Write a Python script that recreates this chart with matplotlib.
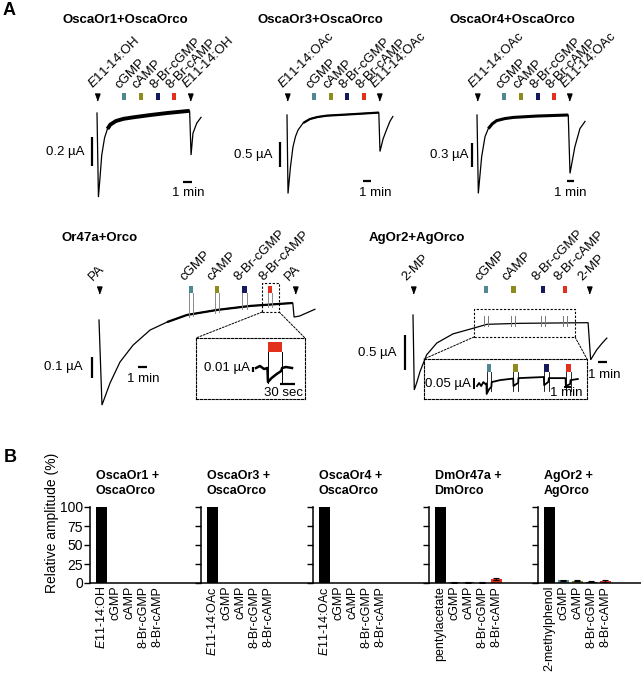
import numpy as np
import matplotlib.pyplot as plt
from matplotlib.patches import Rectangle, ConnectionPatch

plt.rcParams['font.family'] = ['Liberation Sans', 'DejaVu Sans']
plt.rcParams['mathtext.fontset'] = 'custom'
plt.rcParams['mathtext.rm'] = 'Liberation Sans'
plt.rcParams['mathtext.it'] = 'Liberation Sans:italic'
plt.rcParams['font.size'] = 9.5

W, H = 641, 677

# test compounds
stim_names = ['cGMP', 'cAMP', '8-Br-cGMP', '8-Br-cAMP']
stim_colors = ['#4f8793', '#8f8b1f', '#151a5e', '#e3301c']

# ---------------- A: recordings (time in min, current in uA) ----------------
or1_odor = r'$\mathit{E}$11-14:OH'
or1_t = [0, 0.15, 0.3, 0.5, 0.8, 1.1, 1.4, 2.0, 2.8, 3.8, 5.5, 7.4, 9.75, 9.9, 10.1, 10.5, 10.95]
or1_i = [0, -0.58, -0.46, -0.29, -0.17, -0.11, -0.08, -0.055, -0.04, -0.03, -0.015, 0.0, 0.015,
         -0.29, -0.14, -0.07, -0.03]
or1_odor_t = [0, 9.8]
or1_stim_t = [2.84, 4.63, 6.42, 8.1]

or3_odor = r'$\mathit{E}$11-14:OAc'
or3_t = [0, 0.12, 0.4, 0.7, 1.0, 1.3, 1.9, 2.7, 3.6, 4.7, 7.4, 10.6, 10.8, 10.94, 11.3, 11.7, 12.1, 12.45]
or3_i = [0, -1.57, -1.05, -0.64, -0.43, -0.30, -0.16, -0.08, -0.04, -0.013, 0.013, 0.046, 0.05,
         -0.73, -0.48, -0.30, -0.13, -0.03]
or3_odor_t = [0, 10.82]
or3_stim_t = [3.18, 5.18, 7.06, 9.06]

or4_odor = r'$\mathit{E}$11-14:OAc'
or4_t = [0, 0.18, 0.64, 1.1, 1.55, 2.1, 2.7, 3.8, 5.0, 8.2, 12.5, 12.74, 13.4, 14.1, 14.8]
or4_i = [0, -0.98, -0.52, -0.27, -0.17, -0.11, -0.07, -0.045, -0.03, -0.013, 0.0, -0.73, -0.40, -0.17, -0.08]
or4_odor_t = [0, 12.6]
or4_stim_t = [3.7, 6.03, 8.36, 10.55]

or47_odor = 'PA'
or47_t = [0, 0.35, 1.3, 2.47, 4.0, 6.0, 8.0, 10.35, 13.9, 17.8, 22.8, 22.95, 23.6, 25.4]
or47_i = [0, -0.405, -0.30, -0.20, -0.12, -0.048, -0.01, 0.024, 0.048, 0.067, 0.081, 0.014, 0.019, 0.051]
or47_odor_t = [0, 23.1]
or47_stim_t = [10.8, 13.9, 17.1, 20.1]
# zoom on the 8-Br-cAMP application (time from application onset)
or47_zoom_t = [-0.4, -0.27, -0.13, -0.02, 0.0, 0.12, 0.29, 0.44, 0.47, 0.6, 0.8]
or47_zoom_i = [0, 0.004, -0.002, 0, -0.028, -0.02, -0.012, -0.006, 0, 0.002, 0]

ag_odor = '2-MP'
ag_t = [0, 0.15, 0.43, 0.82, 1.6, 2.8, 4.7, 7.06, 8.7, 12.6, 20.4, 20.6, 20.9, 21.6, 22.2, 22.8]
ag_i = [0, -1.07, -0.97, -0.81, -0.57, -0.40, -0.27, -0.19, -0.133, -0.119, -0.11, -0.11,
        -0.64, -0.5, -0.41, -0.33]
ag_odor_t = [0, 20.7]
ag_stim_t = [8.6, 11.8, 15.3, 17.9]
ag_zoom_t = [0, 0.3, 0.6, 0.9, 1.2, 1.34, 1.38, 1.7, 2.05, 2.1, 3.3, 5.17, 5.21, 5.6, 5.88, 5.92,
             9.55, 9.59, 10.2, 10.26, 12.65, 12.69, 13.3, 13.36, 14.4]
ag_zoom_i = [-0.009, 0.005, -0.009, 0.009, 0.0, 0.003, -0.045, -0.025, -0.012, 0.009, 0.018, 0.025,
             -0.009, 0.0, 0.005, 0.027, 0.032, -0.005, 0.01, 0.027, 0.027, -0.009, 0.0, 0.018, 0.023]
ag_zoom_stim_t = [1.36, 5.19, 9.57, 12.67]

# ---------------- B: relative amplitudes (%) ----------------
b_titles = ['OscaOr1 +\nOscaOrco', 'OscaOr3 +\nOscaOrco', 'OscaOr4 +\nOscaOrco',
            'DmOr47a +\nDmOrco', 'AgOr2 +\nAgOrco']
b_odors = [r'$\mathit{E}$11-14:OH', r'$\mathit{E}$11-14:OAc', r'$\mathit{E}$11-14:OAc',
           'pentylacetate', '2-methylphenol']
b_vals = [[100, 0, 0, 0, 0], [100, 0, 0, 0, 0], [100, 0, 0, 0, 0],
          [100, 0.8, 0.9, 0.5, 5.2], [100, 3.8, 3.2, 1.6, 2.8]]
b_errs = [[0, 0, 0, 0, 0], [0, 0, 0, 0, 0], [0, 0, 0, 0, 0],
          [0, 0.4, 0.4, 0.3, 1.5], [0, 0.8, 0.7, 0.5, 0.9]]

fig = plt.figure(figsize=(W / 100, H / 100), dpi=100)
arrow = [(-0.35, 0.5), (0.35, 0.5), (0, -0.5)]
dash = (0, (2, 1.5))


def fy(y):
    # pixel row -> figure / axes fraction
    return 1 - y / H


def trace_axes(name, ox, oy, sx, sy):
    # full figure axes, t=0 and I=0 land on pixel (ox, oy)
    ax = fig.add_axes([0, 0, 1, 1], label=name)
    ax.set_xlim(-ox / sx, (W - ox) / sx)
    ax.set_ylim((oy - H) / sy, oy / sy)
    ax.axis('off')
    return ax


def draw_trace(ax, t, i, noisy=None, lw=0.9, noisy_lw=2.5):
    t = np.array(t)
    i = np.array(i)
    ax.plot(t, i, color='k', lw=lw, solid_joinstyle='miter')
    if noisy:
        m = (t >= noisy[0]) & (t <= noisy[1])
        ax.plot(t[m], i[m], color='k', lw=noisy_lw, solid_capstyle='butt')


def draw_marks(ax, sx, odor, odor_t, stim_t, row_y, label_y, dx):
    tr = ax.get_xaxis_transform()
    for t in odor_t:
        ax.plot(t, fy(row_y), marker=arrow, ms=5, color='k', transform=tr)
        ax.text(t - dx / sx, fy(label_y), odor, rotation=45, rotation_mode='anchor',
                ha='left', va='baseline', transform=tr)
    for t, name, c in zip(stim_t, stim_names, stim_colors):
        ax.add_patch(Rectangle((t - 2.2 / sx, fy(row_y + 3.5)), 4.4 / sx, 7 / H,
                               color=c, transform=tr, lw=0))
        ax.text(t - dx / sx, fy(label_y), name, rotation=45, rotation_mode='anchor',
                ha='left', va='baseline', transform=tr)


def scale_bars(ax, vx, v0, v1, vlabel, lx, ly, h0, h1, hy, tx, ty, lw=1.6):
    ax.plot([vx, vx], [v0, v1], color='k', lw=lw, solid_capstyle='butt')
    ax.text(lx, ly, vlabel, ha='right', va='center')
    ax.plot([h0, h1], [hy, hy], color='k', lw=lw, solid_capstyle='butt')
    ax.text(tx, ty, '1 min', ha='center', va='center')


def zoom_axes(name, x0, y0, x1, y1, xlim, ylim):
    ax = fig.add_axes([x0 / W, fy(y1), (x1 - x0) / W, (y1 - y0) / H], label=name)
    ax.set_xlim(*xlim)
    ax.set_ylim(*ylim)
    ax.set_xticks([])
    ax.set_yticks([])
    ax.patch.set_alpha(0)
    for s in ax.spines.values():
        s.set_linestyle(dash)
        s.set_linewidth(0.8)
    return ax


fig.text(3 / W, fy(2), 'A', fontsize=13, fontweight='bold', va='top')
fig.text(4 / W, fy(449), 'B', fontsize=13, fontweight='bold', va='top')

# ---- top row ----
for name, cx in [('OscaOr1+OscaOrco', 125), ('OscaOr3+OscaOrco', 320), ('OscaOr4+OscaOrco', 512)]:
    fig.text(cx / W, fy(20), name, ha='center', va='center', fontweight='bold')

ax1 = trace_axes('or1', 97, 113, 9.5, 145)
draw_trace(ax1, or1_t, or1_i, noisy=(1.0, 9.75), noisy_lw=2.8)
draw_marks(ax1, 9.5, or1_odor, or1_odor_t, or1_stim_t, 96.5, 89, 4)
scale_bars(ax1, -0.53, -0.166, -0.366, '0.2 µA', -1.3, -0.27, 9.05, 10.05, -0.476, 9.6, -0.55)

ax2 = trace_axes('or3', 287, 115, 8.5, 50)
draw_trace(ax2, or3_t, or3_i, noisy=(1.9, 10.8), noisy_lw=1.6)
draw_marks(ax2, 8.5, or3_odor, or3_odor_t, or3_stim_t, 96.5, 89, 4)
scale_bars(ax2, -0.82, -0.54, -1.04, '0.5 µA', -1.76, -0.8, 8.94, 9.94, -1.32, 10.35, -1.56)

ax3 = trace_axes('or4', 477, 115, 7.3, 80)
draw_trace(ax3, or4_t, or4_i, noisy=(1.55, 12.5), noisy_lw=2.2)
draw_marks(ax3, 7.3, or4_odor, or4_odor_t, or4_stim_t, 96.5, 89, 4)
scale_bars(ax3, -0.68, -0.35, -0.65, '0.3 µA', -1.23, -0.5, 12.33, 13.33, -0.825, 12.74, -0.975)

# ---- middle row ----
fig.text(100 / W, fy(238), 'Or47a+Orco', ha='center', va='center', fontweight='bold')
fig.text(417 / W, fy(238), 'AgOr2+AgOrco', ha='center', va='center', fontweight='bold')

ax4 = trace_axes('or47', 99, 320, 8.5, 210)
draw_trace(ax4, or47_t, or47_i, noisy=(8.0, 22.8), noisy_lw=1.6)
for t in or47_stim_t:
    for te in (t - 0.26, t + 0.26):
        ax4.plot([te, te], [0.129, np.interp(te, or47_t, or47_i) - 0.012], color='#8a8a8a', lw=0.7)
draw_marks(ax4, 8.5, or47_odor, or47_odor_t, or47_stim_t, 289.5, 281, 6)
scale_bars(ax4, -0.82, -0.176, -0.276, '0.1 µA', -1.9, -0.224, 4.6, 5.6, -0.224, 5.2, -0.28)
ax4.add_patch(Rectangle((19.2, 0.038), 2.0, 0.138, fill=False, ls=dash, lw=0.8))

in1 = zoom_axes('in1', 196, 338, 305, 399, (-2.4, 1.233), (-0.062, 0.06))
in1.plot(or47_zoom_t, or47_zoom_i, color='k', lw=1.8)
in1.add_patch(Rectangle((0, 0.032), 0.47, 0.02, color=stim_colors[3], lw=0))
for te in (0, 0.47):
    in1.plot([te, te], [0.032, -0.03], color='k', lw=0.7)
in1.plot([-0.5, -0.5], [0.002, -0.008], color='k', lw=1.6, solid_capstyle='butt')
in1.text(-0.6, 0.0, '0.01 µA', ha='right', va='center')
in1.plot([0.4, 0.9], [-0.032, -0.032], color='k', lw=1.6, solid_capstyle='butt')
in1.text(0.5, -0.05, '30 sec', ha='center', va='center')
for xa, xb in [((19.2, 0.038), (0, 1)), ((21.2, 0.038), (1, 1))]:
    fig.add_artist(ConnectionPatch(xa, xb, coordsA=ax4.transData, coordsB=in1.transAxes,
                                   ls=dash, lw=0.7, color='k'))

ax5 = trace_axes('ag', 413, 315, 8.5, 70)
draw_trace(ax5, ag_t, ag_i, lw=0.9)
for t in ag_stim_t:
    for te in (t - 0.24, t + 0.24):
        ax5.plot([te, te], [-0.02, -0.16], color='#777777', lw=0.7)
draw_marks(ax5, 8.5, ag_odor, ag_odor_t, ag_stim_t, 289.5, 281, 7)
scale_bars(ax5, -0.94, -0.286, -0.786, '0.5 µA', -2.0, -0.54, 21.8, 22.8, -0.67, 22.5, -0.86)
ax5.add_patch(Rectangle((7.18, -0.314), 11.88, 0.4, fill=False, ls=dash, lw=0.8))

in2 = zoom_axes('in2', 424, 359, 587, 399, (-7.57, 15.71), (-0.068, 0.114))
in2.plot(ag_zoom_t, ag_zoom_i, color='k', lw=1.3)
for t, c in zip(ag_zoom_stim_t, stim_colors):
    in2.add_patch(Rectangle((t, 0.055), 0.71, 0.036, color=c, lw=0))
    for te in (t, t + 0.71):
        in2.plot([te, te], [0.055, -0.03], color='k', lw=0.6)
in2.plot([-0.43, -0.43], [0.027, -0.023], color='k', lw=1.4, solid_capstyle='butt')
in2.text(-0.86, 0.0, '0.05 µA', ha='right', va='center')
in2.plot([12.4, 13.4], [-0.012, -0.012], color='k', lw=1.4, solid_capstyle='butt')
in2.text(12.7, -0.04, '1 min', ha='center', va='center')
for xa, xb in [((7.18, -0.314), (0, 1)), ((19.06, -0.314), (1, 1))]:
    fig.add_artist(ConnectionPatch(xa, xb, coordsA=ax5.transData, coordsB=in2.transAxes,
                                   ls=dash, lw=0.7, color='k'))

# ---- B: bar charts ----
b_left = [90, 201, 313, 429, 538]
b_right = [201, 313, 429, 538, 641]
x = np.arange(5)
for k in range(5):
    wpx = b_right[k] - b_left[k]
    ax = fig.add_axes([b_left[k] / W, fy(583), wpx / W, 76 / H])
    errs = b_errs[k] if any(b_errs[k]) else None
    ax.bar(x, b_vals[k], width=0.78, color=['k'] + stim_colors, yerr=errs, capsize=2,
           error_kw=dict(lw=0.8, capthick=0.8))
    ax.set_xlim(-0.82, -0.82 + wpx / 14)
    ax.set_ylim(0, 100)
    ax.set_xticks(x, [b_odors[k]] + stim_names, rotation=90, fontsize=9)
    ax.tick_params(axis='x', length=0, pad=2)
    ax.set_yticks([0, 25, 50, 75, 100])
    ax.tick_params(axis='y', length=4, width=1, labelsize=10, pad=1)
    if k > 0:
        ax.set_yticklabels([])
    else:
        ax.set_ylabel('Relative amplitude (%)', fontsize=10)
        ax.yaxis.set_label_coords(-0.275, 0.79)
    for s in ['top', 'right']:
        ax.spines[s].set_visible(False)
    for s in ['left', 'bottom']:
        ax.spines[s].set_linewidth(1.1)
    ax.patch.set_alpha(0)
    ax.text(-0.42, 113, b_titles[k], ha='left', va='bottom', fontweight='bold', fontsize=9,
            linespacing=1.4, clip_on=False)

fig.savefig('out.png', dpi=100)
